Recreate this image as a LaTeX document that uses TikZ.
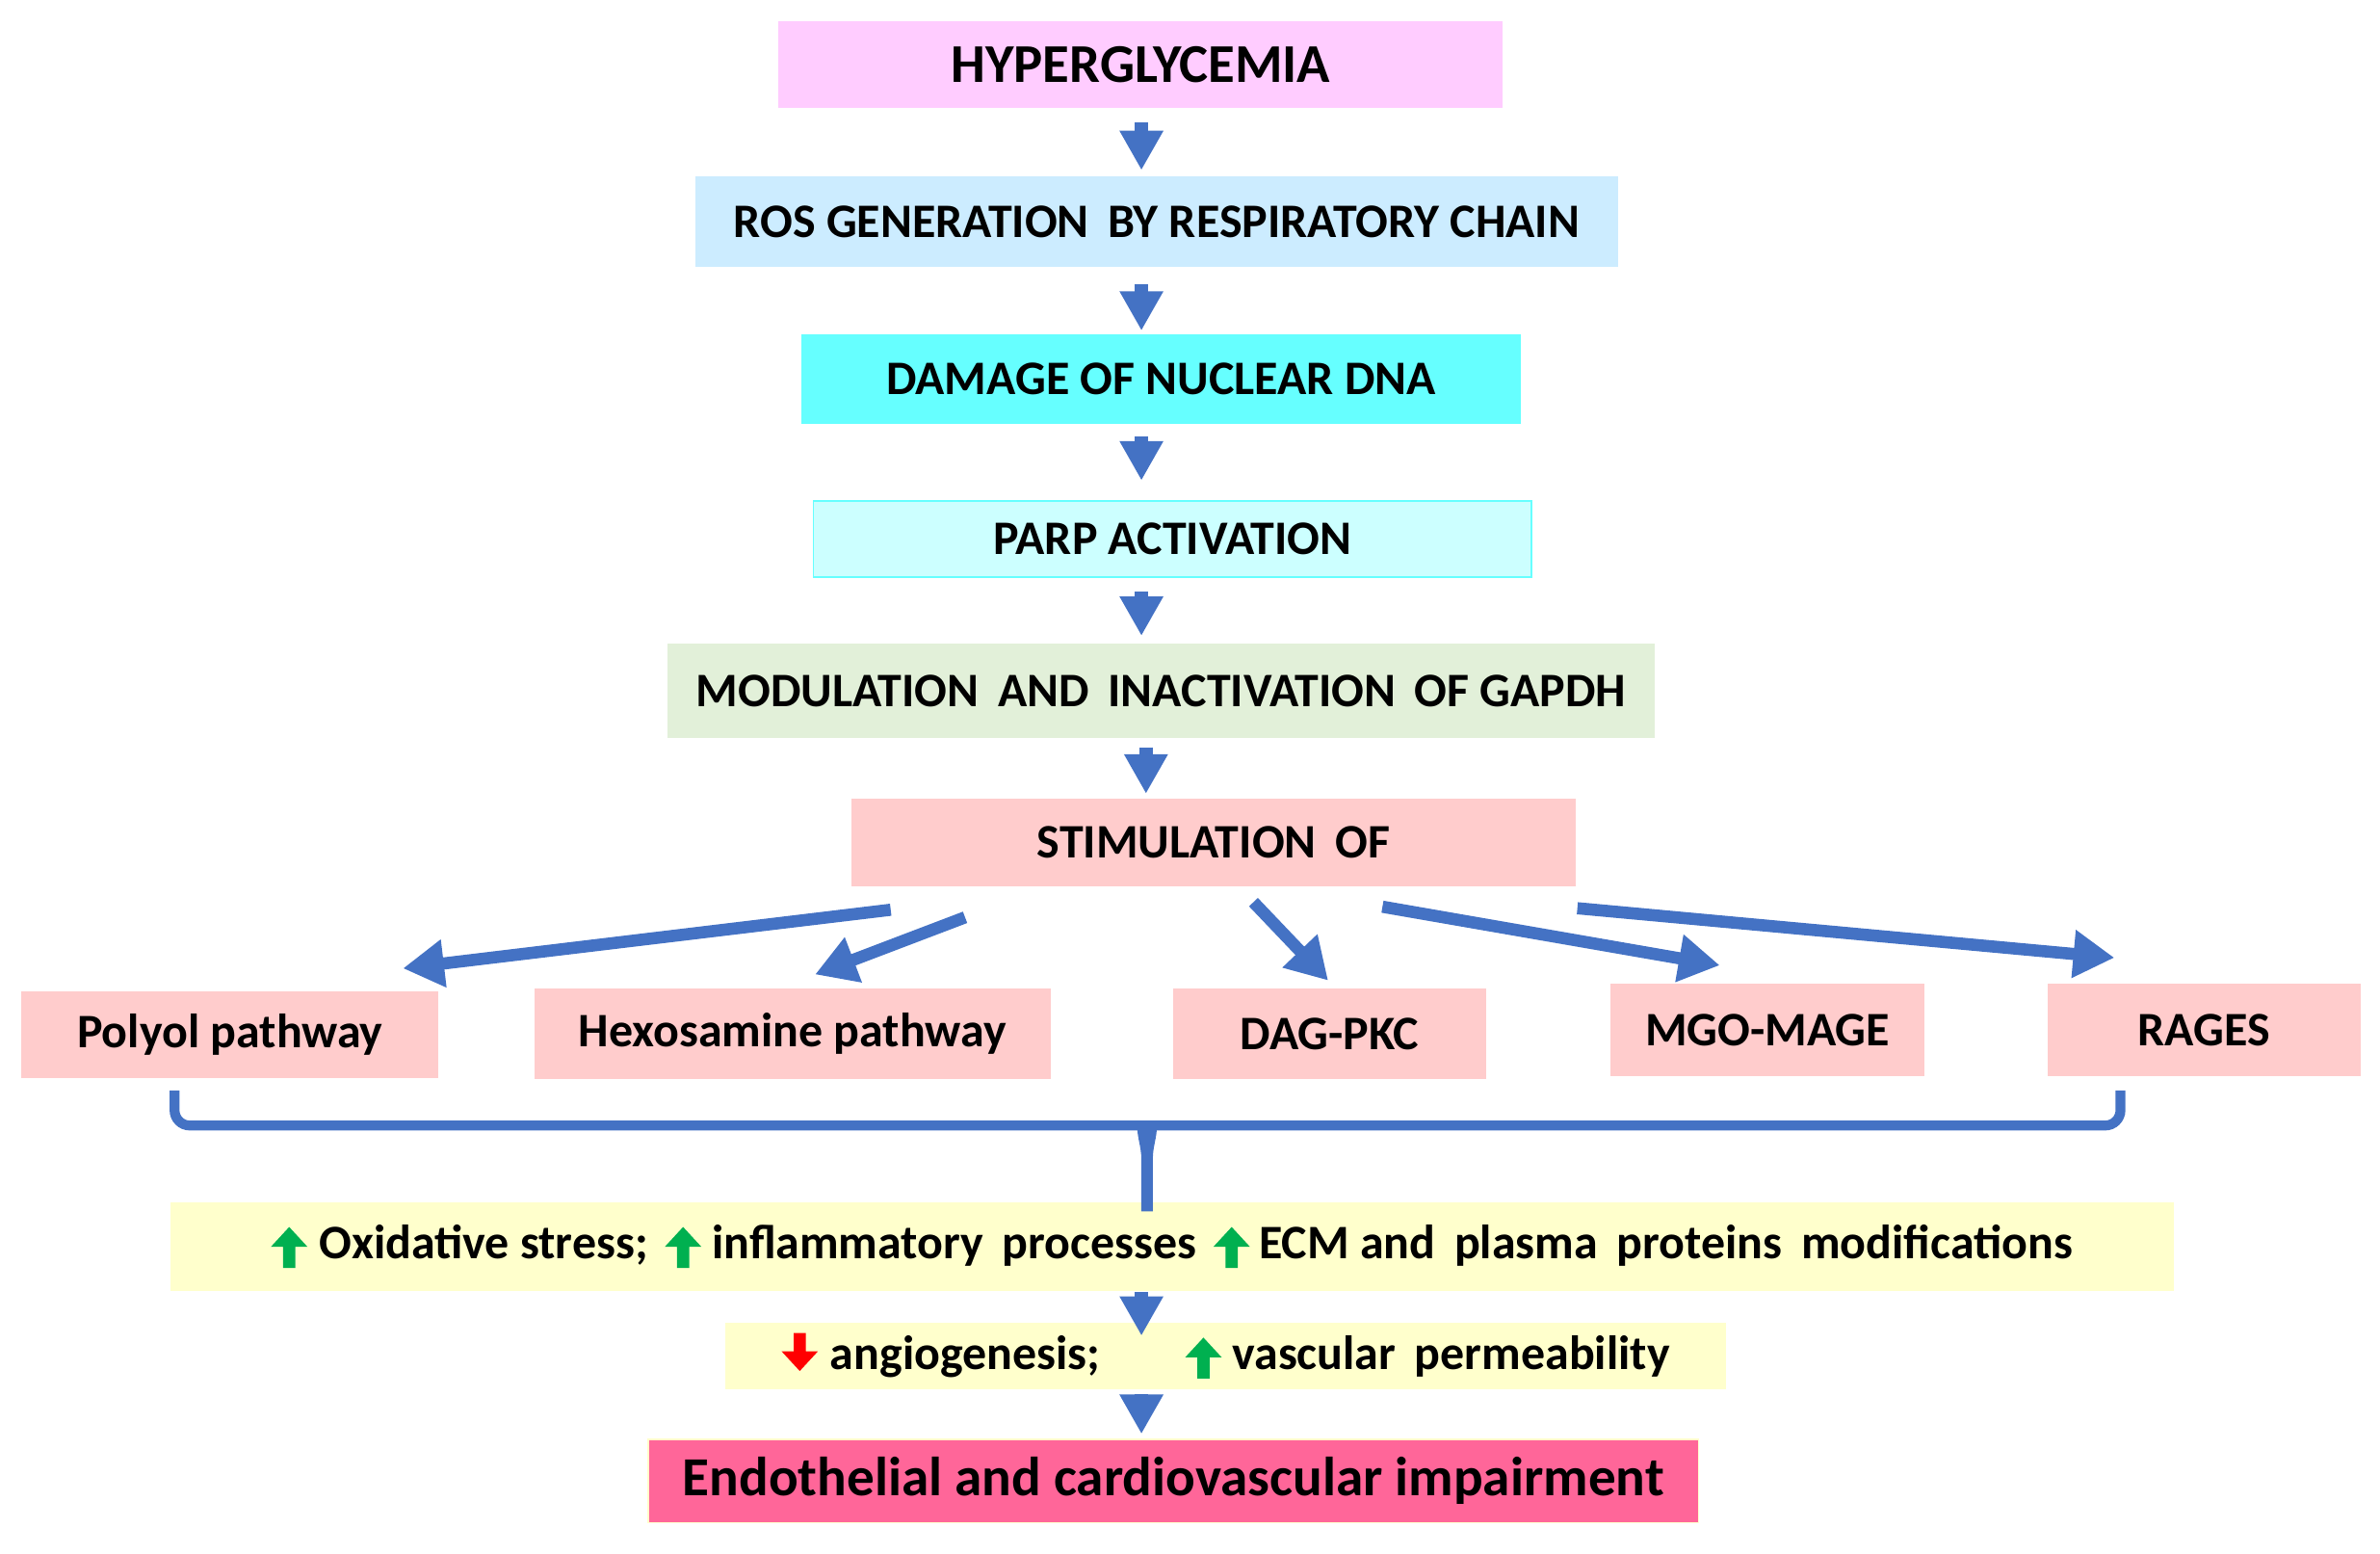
\documentclass[tikz,border=0pt]{standalone}
\usepackage{fontspec}
\setmainfont{Carlito}
\usetikzlibrary{arrows.meta,calc}
\definecolor{arrblue}{HTML}{4472C4}
\definecolor{upgreen}{HTML}{00B050}
\definecolor{dnred}{HTML}{FF0000}
\definecolor{cHyp}{HTML}{FFCCFF}
\definecolor{cRos}{HTML}{CCECFF}
\definecolor{cDna}{HTML}{66FFFF}
\definecolor{cParp}{HTML}{CCFFFF}
\definecolor{cMod}{HTML}{E2F0D9}
\definecolor{cPink}{HTML}{FFCCCC}
\definecolor{cYel}{HTML}{FFFFCC}
\definecolor{cEndo}{HTML}{FF6699}
\newcommand{\upArr}{\tikz[baseline=0pt,x=1pt,y=1pt]\fill[upgreen] (-4,-6)--(-4,8)--(-12,8)--(0,21)--(12,8)--(4,8)--(4,-6)--cycle;}
\newcommand{\dnArr}{\tikz[baseline=0pt,x=1pt,y=1pt]\fill[dnred] (-4,24)--(-4,12)--(-12,12)--(0,-1)--(12,12)--(4,12)--(4,24)--cycle;}
\tikzset{
  box/.style={rectangle, inner sep=0pt, text=black, font=\bfseries\fontsize{31.7}{36}\selectfont},
  darr/.style={draw=arrblue, line width=9pt, -{Triangle[length=26pt,width=27pt]}},
  sarr/.style={draw=arrblue, line width=8pt, -{Triangle[length=27pt,width=30pt]}},
  bracket/.style={draw=arrblue, line width=6.5pt, rounded corners=10pt}
}
\begin{document}
\begin{tikzpicture}[x=1pt,y=-1pt]
\useasboundingbox (0,0) rectangle (1568,1023);
\coordinate (ax) at (752,0);
\coordinate (ax2) at (755,0);
\coordinate (ax3) at (755.7,0);
% boxes
\node[box, fill=cHyp, minimum width=477pt, minimum height=57pt, font=\bfseries\fontsize{36}{40}\selectfont] (hyp) at (751.5,42.5) {HYPERGLYCEMIA};
\node[box, fill=cRos, minimum width=608pt, minimum height=60pt] (ros) at (762,146) {ROS GENERATION\, BY RESPIRATORY CHAIN};
\node[box, fill=cDna, minimum width=474pt, minimum height=59pt] (dna) at (765,249.5) {DAMAGE OF NUCLEAR DNA};
\node[box, fill=cParp, draw=cDna, line width=1pt, minimum width=473pt, minimum height=50pt] (parp) at (772.5,355) {PARP ACTIVATION};
\node[box, fill=cMod, minimum width=650pt, minimum height=62pt] (mod) at (765,455) {MODULATION\, AND\, INACTIVATION\, OF GAPDH};
\node[box, fill=cPink, minimum width=477pt, minimum height=58pt] (stim) at (799.5,555) {STIMULATION\, OF};
\node[box, fill=cPink, minimum width=275pt, minimum height=57pt] (polyol) at (151.5,681.5) {Polyol pathway};
\node[box, fill=cPink, minimum width=340pt, minimum height=60pt] (hexo) at (522,681) {Hexosamine pathway};
\node[box, fill=cPink, minimum width=206pt, minimum height=60pt] (dag) at (876,681) {DAG-PKC};
\node[box, fill=cPink, minimum width=207pt, minimum height=61pt] (mgo) at (1164.5,678.5) {MGO-MAGE};
\node[box, fill=cPink, minimum width=206pt, minimum height=61pt] (rages) at (1452,678.5) {RAGES};
\node[box, fill=cYel, minimum width=1320pt, minimum height=58pt] (ox) at (772,821) {\upArr\hspace{8pt}Oxidative stress;\hspace{11pt}\upArr\hspace{7pt}inflammatory\, processes\hspace{11pt}\upArr\hspace{6pt}ECM and\, plasma\, proteins\, modifications};
\node[box, fill=cYel, minimum width=659pt, minimum height=44pt] (ang) at (807.5,893) {\dnArr\hspace{8pt}angiogenesis;\hspace{56pt}\upArr\hspace{7pt}vascular\, permeability};
\node[box, fill=cEndo, draw=cYel, line width=1pt, minimum width=692pt, minimum height=55pt, font=\bfseries\fontsize{36.3}{40}\selectfont] (endo) at (773,975.5) {Endothelial and cardiovascular impairment};
% vertical arrows
\draw[darr] ($(hyp.south -| ax)+(0,9.6)$) -- ($(ros.north -| ax)+(0,-3.7)$);
\draw[darr] ($(ros.south -| ax)+(0,11)$) -- ($(dna.north -| ax)+(0,-2)$);
\draw[darr] ($(dna.south -| ax)+(0,8)$) -- ($(parp.north -| ax)+(0,-13)$);
\draw[darr] ($(parp.south -| ax)+(0,9)$) -- ($(mod.north -| ax)+(0,-5)$);
\draw[darr] ($(mod.south -| ax2)+(0,6)$) -- ($(stim.north -| ax2)+(0,-3)$);
\draw[darr] ($(ox.south -| ax)+(0,1)$) -- ($(ang.north -| ax)+(0,9)$);
\draw[darr] ($(ang.south -| ax)+(0,3)$) -- ($(endo.north -| ax)+(0,-3)$);
% diagonal arrows
\draw[sarr] ($(stim.south west)+(26,15)$) -- ($(polyol.north)+(114,-15)$);
\draw[sarr] ($(stim.south west)+(75,20)$) -- ($(hexo.north)+(15,-9)$);
\draw[sarr] ($(stim.south west)+(265,10)$) -- ($(dag.north)+(-1,-5)$);
\draw[sarr] ($(stim.south west)+(350,13)$) -- ($(mgo.north)+(-31.5,-12)$);
\draw[sarr] ($(stim.south east)+(1,14)$) -- ($(rages.north)+(-59,-17)$);
% bracket
\coordinate (bM) at ($(ox.north -| ax3)+(0,-50.5)$);
\coordinate (bE) at ($(ox.north -| ax3)+(0,6)$);
\draw[bracket] ($(polyol.south)+(-36.5,8)$) |- (bM);
\draw[bracket] ($(rages.south)+(-55,9)$) |- (bM);
\fill[arrblue] ($(bM)+(-6.5,0)$) -- ($(bM)+(6.5,0)$) to[out=-90,in=90] ($(bM)+(3.8,22)$) -- ($(bE)+(3.8,0)$) -- ($(bE)+(-3.8,0)$) -- ($(bM)+(-3.8,22)$) to[out=90,in=-90] cycle;
\end{tikzpicture}
\end{document}
